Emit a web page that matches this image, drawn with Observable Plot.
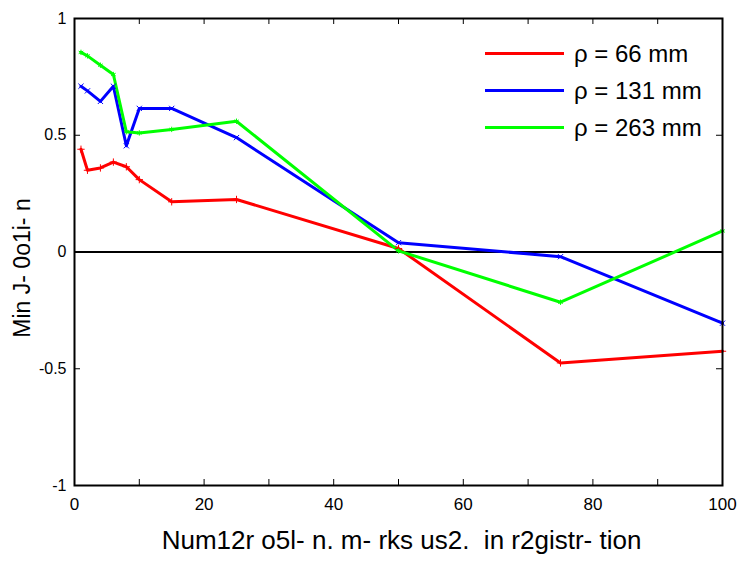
<!DOCTYPE html>
<html>
<head>
<meta charset="utf-8">
<script src="https://cdn.jsdelivr.net/npm/d3@7"></script>
<script src="https://cdn.jsdelivr.net/npm/@observablehq/plot@0.6"></script>
<style>
  html, body { margin: 0; padding: 0; background: #fff; }
  #wrap { position: relative; width: 751px; height: 564px; font-family: "Liberation Sans", Arial, sans-serif; }
  #legend { position: absolute; left: 485px; top: 35px; }
  .row { display: flex; align-items: center; height: 37px; }
  .row .sw { width: 79px; height: 3px; margin-right: 10px; }
  .row span { font-size: 24px; color: #000; white-space: nowrap; }
</style>
</head>
<body>
<div id="wrap"></div>
<script>
// Data
const xValues = [1, 2, 4, 6, 8, 10, 15, 25, 50, 75, 100];
const rho66  = [0.44, 0.35, 0.36, 0.385, 0.365, 0.31, 0.215, 0.225, 0.015, -0.475, -0.425];
const rho131 = [0.71, 0.69, 0.645, 0.71, 0.455, 0.615, 0.615, 0.49, 0.04, -0.02, -0.305];
const rho263 = [0.855, 0.84, 0.80, 0.76, 0.515, 0.51, 0.525, 0.56, 0.005, -0.215, 0.09];
const seriesNames = ["ρ = 66 mm", "ρ = 131 mm", "ρ = 263 mm"];
const seriesColors = ["#ff0000", "#0000ff", "#00ff00"];
const seriesSymbols = ["plus", "times", "asterisk"];
const xTicks = [0, 20, 40, 60, 80, 100];
const xMinorTicks = [0, 10, 20, 30, 40, 50, 60, 70, 80, 90, 100];
const yTicks = [-1, -0.5, 0, 0.5, 1];
const xLabel = "Num12r o5l- n. m- rks us2.  in r2gistr- tion";
const yLabel = "Min J- 0o1i- n";

const seriesValues = [rho66, rho131, rho263];
const rows = [];
seriesValues.forEach((vals, s) => vals.forEach((v, i) => rows.push({series: seriesNames[s], x: xValues[i], y: v})));

const chart = Plot.plot({
  width: 751,
  height: 564,
  marginLeft: 74,
  marginRight: 29,
  marginTop: 18,
  marginBottom: 79,
  style: {fontFamily: "'Liberation Sans', Arial, sans-serif", color: "#000", background: "#fff"},
  x: {domain: [0, 100]},
  y: {domain: [-1, 1]},
  color: {domain: seriesNames, range: seriesColors},
  symbol: {domain: seriesNames, range: seriesSymbols},
  marks: [
    Plot.ruleY([0], {stroke: "#000", strokeWidth: 2}),
    Plot.line(rows, {x: "x", y: "y", z: "series", stroke: "series", strokeWidth: 3}),
    Plot.dot(rows, {x: "x", y: "y", symbol: "series", stroke: "series", r: 2.5, strokeWidth: 1}),
    // inward ticks
    Plot.tickX(xMinorTicks, {x: d => d, insetTop: 461, stroke: "#000", strokeWidth: 1}),
    Plot.tickX(xMinorTicks, {x: d => d, insetBottom: 461, stroke: "#000", strokeWidth: 1}),
    Plot.tickY(yTicks, {y: d => d, insetRight: 642, stroke: "#000", strokeWidth: 1}),
    Plot.tickY(yTicks, {y: d => d, insetLeft: 642, stroke: "#000", strokeWidth: 1}),
    Plot.axisX(xTicks, {anchor: "bottom", tickSize: 0, tickPadding: 12, fontSize: 17, label: null, tickFormat: d => String(d)}),
    Plot.axisY(yTicks, {anchor: "left", tickSize: 0, tickPadding: 8, fontSize: 16, label: null, tickFormat: d => String(d)}),
    Plot.frame({stroke: "#000", strokeWidth: 2}),
    Plot.text([xLabel], {frameAnchor: "bottom", textAnchor: "middle", lineAnchor: "middle", dx: 3, dy: 55, fontSize: 26, fill: "#000"}),
    Plot.text([yLabel], {frameAnchor: "left", textAnchor: "middle", lineAnchor: "middle", rotate: -90, dx: -52, dy: 16, fontSize: 23, fill: "#000"})
  ]
});
document.getElementById("wrap").appendChild(chart);

// legend
const legend = document.createElement("div");
legend.id = "legend";
seriesNames.forEach((name, i) => {
  const row = document.createElement("div");
  row.className = "row";
  const sw = document.createElement("div");
  sw.className = "sw";
  sw.style.background = seriesColors[i];
  const label = document.createElement("span");
  label.textContent = name;
  row.appendChild(sw);
  row.appendChild(label);
  legend.appendChild(row);
});
document.getElementById("wrap").appendChild(legend);
</script>
</body>
</html>
